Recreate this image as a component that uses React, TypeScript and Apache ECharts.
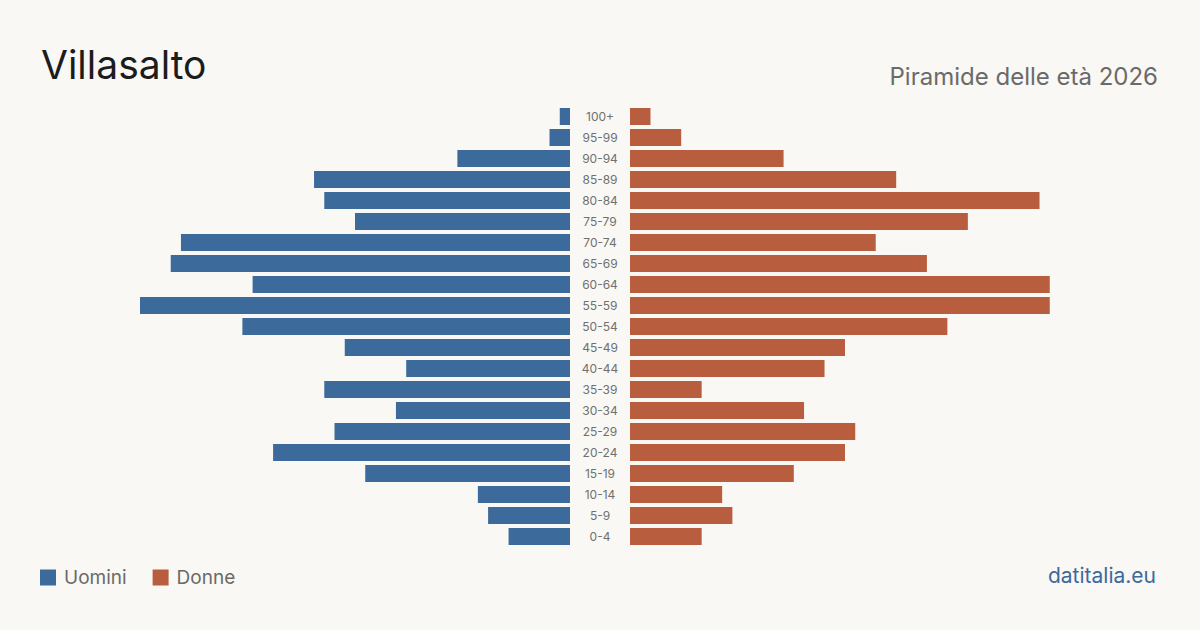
import React, { useEffect, useRef } from "react";
import * as echarts from "echarts";

// Age classes, bottom to top
const ageClasses = [
  "0-4", "5-9", "10-14", "15-19", "20-24", "25-29", "30-34", "35-39", "40-44",
  "45-49", "50-54", "55-59", "60-64", "65-69", "70-74", "75-79", "80-84",
  "85-89", "90-94", "95-99", "100+",
];

// Residents per age class
const uomini = [6, 8, 9, 20, 29, 23, 17, 24, 16, 22, 32, 42, 31, 39, 38, 21, 24, 25, 11, 2, 1];
const donne = [7, 10, 9, 16, 21, 22, 17, 7, 19, 21, 31, 41, 41, 29, 24, 33, 40, 26, 15, 5, 2];

const BLUE = "#3b6a9b";
const RED = "#b85d3d";
const FONT = "Inter, 'Noto Sans', sans-serif";

export default function App() {
  const ref = useRef<HTMLDivElement>(null);

  useEffect(() => {
    if (!ref.current) return;
    const chart = echarts.init(ref.current, null, { renderer: "svg" });
    const maxVal = Math.max(...uomini, ...donne);
    const gridTop = 106;
    const gridHeight = 441;

    chart.setOption({
      animation: false,
      backgroundColor: "#f9f8f4",
      textStyle: { fontFamily: FONT },
      title: [
        {
          text: "Villasalto",
          left: 41,
          top: 45,
          padding: 0,
          textStyle: { fontFamily: FONT, fontSize: 39, fontWeight: 400, color: "#1c1c1c" },
        },
        {
          text: "Piramide delle età 2026",
          right: 42,
          top: 64,
          padding: 0,
          textStyle: { fontFamily: FONT, fontSize: 24, fontWeight: 400, color: "#6a6a6a" },
        },
        {
          text: "datitalia.eu",
          right: 44,
          top: 565,
          padding: 0,
          textStyle: { fontFamily: FONT, fontSize: 21, fontWeight: 400, color: BLUE },
        },
      ],
      legend: {
        left: 40,
        top: 568,
        padding: 0,
        icon: "rect",
        itemWidth: 16,
        itemHeight: 16,
        itemGap: 26,
        textStyle: { fontFamily: FONT, fontSize: 19, color: "#6a6a6a", padding: [0, 0, 0, 3] },
        data: ["Uomini", "Donne"],
      },
      grid: [
        { left: 140, width: 430, top: gridTop, height: gridHeight },
        { left: 630, width: 430, top: gridTop, height: gridHeight },
      ],
      xAxis: [
        {
          gridIndex: 0,
          type: "value",
          inverse: true,
          min: 0,
          max: maxVal,
          show: false,
        },
        {
          gridIndex: 1,
          type: "value",
          min: 0,
          max: maxVal,
          show: false,
        },
      ],
      yAxis: [
        {
          gridIndex: 0,
          type: "category",
          data: ageClasses,
          position: "right",
          axisLine: { show: false },
          axisTick: { show: false },
          axisLabel: { show: false },
        },
        {
          gridIndex: 1,
          type: "category",
          data: ageClasses,
          position: "left",
          axisLine: { show: false },
          axisTick: { show: false },
          axisLabel: {
            margin: 30,
            align: "center",
            fontFamily: FONT,
            fontSize: 12,
            color: "#707070",
          },
        },
      ],
      series: [
        {
          name: "Uomini",
          type: "bar",
          xAxisIndex: 0,
          yAxisIndex: 0,
          data: uomini,
          barCategoryGap: "19%",
          itemStyle: { color: BLUE },
        },
        {
          name: "Donne",
          type: "bar",
          xAxisIndex: 1,
          yAxisIndex: 1,
          data: donne,
          barCategoryGap: "19%",
          itemStyle: { color: RED },
        },
      ],
    });

    return () => chart.dispose();
  }, []);

  return (
    <div
      ref={ref}
      style={{ width: 1200, height: 630, position: "absolute", left: 0, top: 0 }}
    />
  );
}
